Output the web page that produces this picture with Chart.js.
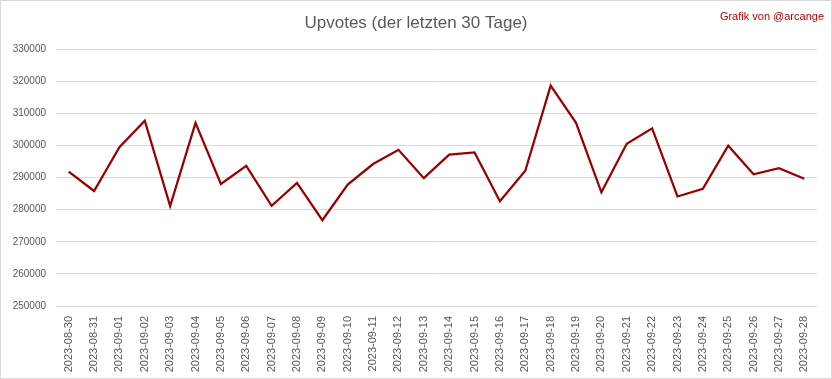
<!DOCTYPE html>
<html>
<head>
<meta charset="utf-8">
<script src="https://cdn.jsdelivr.net/npm/chart.js@4"></script>
<style>
    html, body { margin: 0; padding: 0; background: #fff; }
    #wrap { width: 832px; height: 379px; position: relative; }
</style>
</head>
<body>
<div id="wrap"><canvas id="chart"></canvas></div>
<script>
// Upvotes der letzten 30 Tage
const days = [
    '2023-08-30', '2023-08-31', '2023-09-01', '2023-09-02', '2023-09-03', '2023-09-04',
    '2023-09-05', '2023-09-06', '2023-09-07', '2023-09-08', '2023-09-09', '2023-09-10',
    '2023-09-11', '2023-09-12', '2023-09-13', '2023-09-14', '2023-09-15', '2023-09-16',
    '2023-09-17', '2023-09-18', '2023-09-19', '2023-09-20', '2023-09-21', '2023-09-22',
    '2023-09-23', '2023-09-24', '2023-09-25', '2023-09-26', '2023-09-27', '2023-09-28'
];
const upvotes = [
    291800, 285800, 299400, 307700, 281100, 307000,
    288000, 293600, 281200, 288300, 276700, 287800,
    294200, 298600, 289800, 297100, 297800, 282600,
    292100, 318600, 307000, 285400, 300500, 305300,
    284100, 286500, 299900, 291000, 292900, 289600
];
const yTicks = [250000, 260000, 270000, 280000, 290000, 300000, 310000, 320000, 330000];

const titleText = 'Upvotes (der letzten 30 Tage)';
const creditText = 'Grafik von @arcange';
const fontFamily = '"Liberation Sans", "DejaVu Sans", sans-serif';

// draws the title, the credit and the outer frame
const decorations = {
    id: 'decorations',
    afterDraw(chart) {
        const ctx = chart.ctx;
        ctx.save();
        ctx.strokeStyle = '#d9d9d9';
        ctx.lineWidth = 1;
        ctx.strokeRect(0.5, 0.5, chart.width - 1, chart.height - 1);

        ctx.fillStyle = '#595959';
        ctx.font = '17px ' + fontFamily;
        ctx.textAlign = 'center';
        ctx.textBaseline = 'middle';
        ctx.fillText(titleText, 416, 23);

        ctx.fillStyle = '#c00000';
        ctx.font = '11px ' + fontFamily;
        ctx.textAlign = 'right';
        ctx.fillText(creditText, 824, 17);
        ctx.restore();
    }
};

const ctx = document.getElementById('chart').getContext('2d');
const chart = new Chart(ctx, {
    type: 'line',
    data: {
        labels: days,
        datasets: [{
            label: 'Upvotes',
            data: upvotes,
            borderColor: '#990000',
            borderWidth: 2.25,
            pointRadius: 0,
            tension: 0,
            fill: false
        }]
    },
    options: {
        responsive: true,
        maintainAspectRatio: false,
        animation: false,
        layout: { padding: { top: 49, left: 0, right: 15, bottom: 0 } },
        plugins: {
            legend: { display: false },
            title: { display: false },
            tooltip: { enabled: false }
        },
        scales: {
            x: {
                offset: true,
                grid: { display: false },
                border: { display: false },
                ticks: {
                    color: '#595959',
                    font: { family: fontFamily, size: 11 },
                    minRotation: 90,
                    maxRotation: 90,
                    autoSkip: false,
                    padding: 2
                },
                afterFit(axis) { axis.height = 73; }
            },
            y: {
                min: yTicks[0],
                max: yTicks[yTicks.length - 1],
                afterBuildTicks(axis) {
                    axis.ticks = yTicks.map(v => ({ value: v }));
                },
                grid: { color: '#d9d9d9', drawTicks: false },
                border: { display: false },
                ticks: {
                    color: '#595959',
                    font: { family: fontFamily, size: 10 },
                    padding: 10,
                    callback: v => String(v)
                },
                afterFit(axis) { axis.width = 56; }
            }
        }
    },
    plugins: [decorations]
});
</script>
</body>
</html>
